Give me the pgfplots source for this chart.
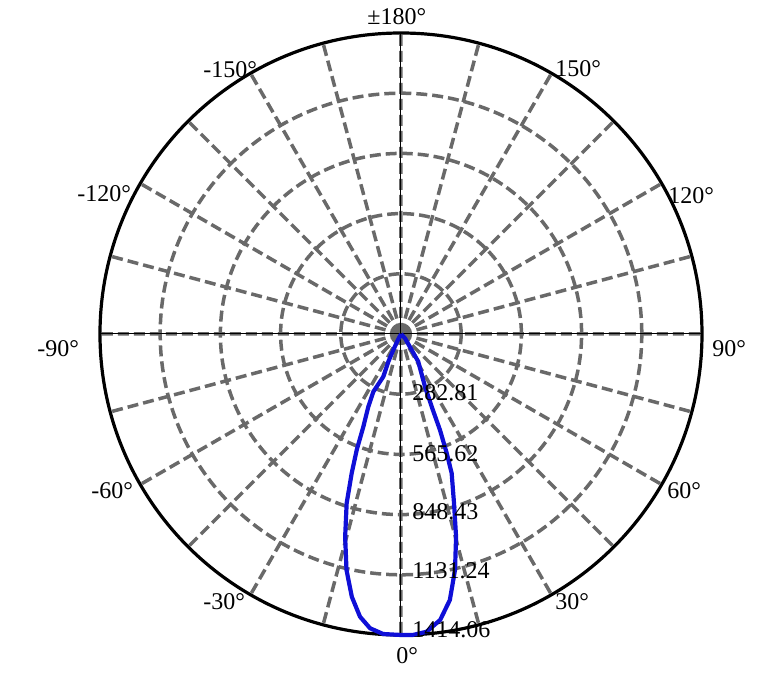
\documentclass[border=0pt]{standalone}
\usepackage{pgfplots}
\pgfplotsset{compat=1.18}
\usepgfplotslibrary{polar}
\usepackage{fontspec}
\setmainfont{Liberation Serif}

\definecolor{gridgray}{RGB}{105,105,105}
\definecolor{beamblue}{RGB}{15,15,215}

% luminous intensity curve: angle (0 = down, 90 = right), intensity
\pgfplotstableread{
ang   val
-40   0
-27   40
-25.7 83
-24.6 143
-22.5 217
-25.6 301
-24.2 375
-22.1 470
-20.9 583
-19.5 694
-17.8 835
-15.4 988
-13.0 1138
-10.6 1256
-8.25 1342
-6.0  1390
-3.4  1412
0     1414
2.3   1415
4.9   1404
7.8   1356
10.4  1271
12.9  1137
15.2  987
17.4  833
20.0  696
21.0  600
22.1  487
22.9  371
24.5  272
32.0  153
33.8  90
43    28
0     0
}\beam

\begin{document}
\begin{tikzpicture}
\begin{polaraxis}[
    scale only axis,
    width=301pt, height=301pt,
    xmin=0, xmax=360,
    ymin=0, ymax=1414.06,
    clip=false,
    xtick={0,30,...,330},
    minor xtick={15,45,...,345},
    ytick={282.81,565.62,848.43,1131.24},
    xticklabels={}, yticklabels={},
    major tick length=0pt, minor tick length=0pt,
    grid=both,
    major grid style={gridgray, line width=1.75pt, dash pattern=on 5.5pt off 2.5pt},
    minor grid style={gridgray, line width=1.75pt, dash pattern=on 5.5pt off 2.5pt},
    x axis line style={black, line width=1.6pt},
    y axis line style={draw=none},
    font=\fontsize{12}{14}\selectfont,
  ]
  \coordinate (O) at (axis cs:0,0);
  \draw[black, line width=0.5pt] (axis cs:90,1414.06) -- (axis cs:270,1414.06);
  \draw[black, line width=0.5pt] (axis cs:0,1414.06) -- (axis cs:180,1414.06);
  \addplot[beamblue, line width=2.1pt, mark=none, line join=round, x filter/.expression={x-90}]
    table[x=ang, y=val] {\beam};
\end{polaraxis}

\begin{scope}[every node/.style={inner sep=0pt, font=\fontsize{12}{14}\selectfont}]
  % angle labels
  \node[anchor=north west] at ([shift={(-2.5pt,-156.5pt)}]O) {0°};
  \node[anchor=north west] at ([shift={(77pt,-129.5pt)}]O) {30°};
  \node[anchor=north west] at ([shift={(133pt,-74pt)}]O) {60°};
  \node[anchor=north west] at ([shift={(155.5pt,-3pt)}]O) {90°};
  \node[anchor=north west] at ([shift={(133.5pt,73.5pt)}]O) {120°};
  \node[anchor=north west] at ([shift={(77pt,137pt)}]O) {150°};
  \node[anchor=north west] at ([shift={(-17pt,163pt)}]O) {±180°};
  \node[anchor=north west] at ([shift={(-99pt,136.5pt)}]O) {-150°};
  \node[anchor=north west] at ([shift={(-162pt,74.5pt)}]O) {-120°};
  \node[anchor=north west] at ([shift={(-182pt,-3pt)}]O) {-90°};
  \node[anchor=north west] at ([shift={(-155pt,-74pt)}]O) {-60°};
  \node[anchor=north west] at ([shift={(-99pt,-129.5pt)}]O) {-30°};
  % radial labels
  \node[anchor=west] at ([shift={(5.5pt,-29.25pt)}]O) {282.81};
  \node[anchor=west] at ([shift={(5.5pt,-59.75pt)}]O) {565.62};
  \node[anchor=west] at ([shift={(5.5pt,-89pt)}]O) {848.43};
  \node[anchor=west] at ([shift={(5.5pt,-118.25pt)}]O) {1131.24};
  \node[anchor=west] at ([shift={(5.5pt,-147.75pt)}]O) {1414.06};
\end{scope}

\pgfresetboundingbox
\path (O) ++(-200.5pt,-173.5pt) rectangle ++(384pt,340.5pt);
\end{tikzpicture}
\end{document}
